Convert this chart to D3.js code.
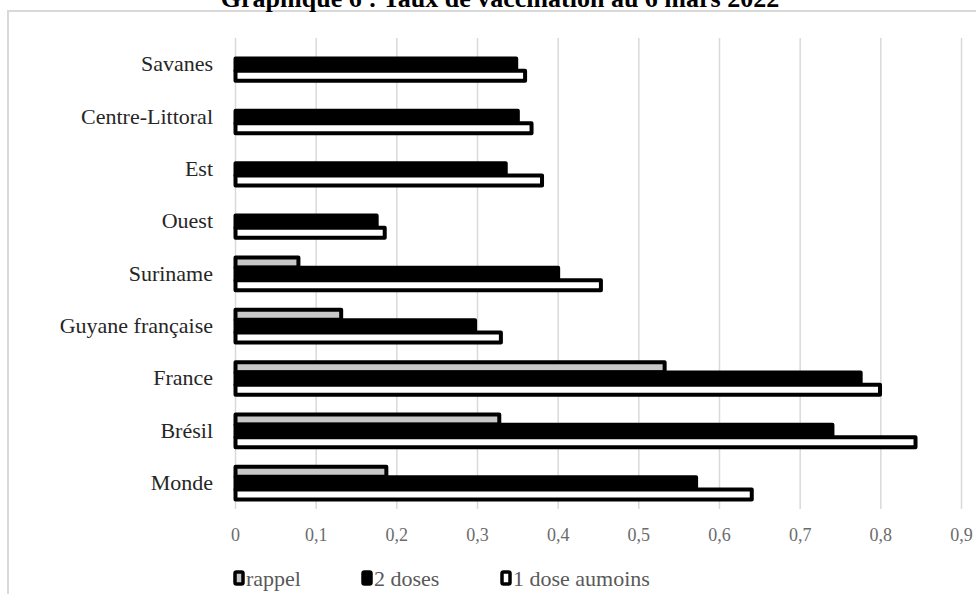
<!DOCTYPE html>
<html>
<head>
<meta charset="utf-8">
<script src="https://cdn.jsdelivr.net/npm/d3@7"></script>
<style>
  body { margin: 0; background: #fff; }
  svg { display: block; }
</style>
</head>
<body>
<div id="chart"></div>
<script>
// Graphique 6 - taux de vaccination, barres horizontales

const categories = ["Savanes", "Centre-Littoral", "Est", "Ouest", "Suriname",
    "Guyane française", "France", "Brésil", "Monde"];
const rappel = [0, 0, 0, 0, 0.078, 0.131, 0.532, 0.327, 0.187];
const deuxDoses = [0.348, 0.350, 0.335, 0.175, 0.400, 0.297, 0.775, 0.740, 0.571];
const uneDose = [0.359, 0.367, 0.380, 0.185, 0.453, 0.329, 0.799, 0.843, 0.640];
const ticks = [0, 0.1, 0.2, 0.3, 0.4, 0.5, 0.6, 0.7, 0.8, 0.9];
const seriesNames = ["rappel", "2 doses", "1 dose aumoins"];

const width = 976;
const height = 594;
const serif = "Liberation Serif, DejaVu Serif, serif";

const svg = d3.select("#chart")
    .append("svg")
    .attr("width", width)
    .attr("height", height);

// cadre du graphique
svg.append("rect")
    .attr("x", 8)
    .attr("y", 11)
    .attr("width", 1000)
    .attr("height", 700)
    .attr("fill", "none")
    .attr("stroke", "#d9d9d9")
    .attr("stroke-width", 2);

// le titre est coupé en haut, comme dans l'original
svg.append("text")
    .attr("x", 500)
    .attr("y", 7)
    .attr("text-anchor", "middle")
    .style("font-family", serif)
    .style("font-weight", "bold")
    .style("font-size", "26px")
    .text("Graphique 6 : Taux de vaccination au 6 mars 2022");

const x = d3.scaleLinear()
    .domain([0, 0.9])
    .range([235.5, 961.5]);

const y = d3.scaleBand()
    .domain(categories)
    .range([38, 509]);

// grille verticale
svg.append("g")
    .selectAll("line")
    .data(ticks)
    .join("line")
    .attr("x1", d => x(d))
    .attr("x2", d => x(d))
    .attr("y1", 38)
    .attr("y2", 509)
    .attr("stroke", "#d9d9d9")
    .attr("stroke-width", 1.5);

const fmt = d => d3.format(".1~f")(d).replace(".", ",");

svg.append("g")
    .selectAll("text")
    .data(ticks)
    .join("text")
    .attr("x", d => x(d))
    .attr("y", 541)
    .attr("text-anchor", "middle")
    .attr("fill", "#6b6b6b")
    .style("font-family", serif)
    .style("font-size", "18px")
    .text(fmt);

svg.append("g")
    .selectAll("text")
    .data(categories)
    .join("text")
    .attr("x", 213)
    .attr("y", d => y(d) + y.bandwidth() / 2 + 7)
    .attr("text-anchor", "end")
    .attr("fill", "#262626")
    .style("font-family", serif)
    .style("font-size", "22px")
    .text(d => d);

// barres : rappel en haut, 2 doses au milieu, 1 dose en bas
const series = [
    { name: "rappel", values: rappel, fill: "#c8c8c8", off: -16, h: 10 },
    { name: "2 doses", values: deuxDoses, fill: "#000", off: -5.7, h: 12.4 },
    { name: "1 dose", values: uneDose, fill: "#fff", off: 6.7, h: 10 }
];

series.forEach(s => {
    svg.append("g")
        .selectAll("rect")
        .data(categories.map((c, i) => ({ cat: c, v: s.values[i] })).filter(d => d.v > 0))
        .join("rect")
        .attr("x", x(0))
        .attr("y", d => y(d.cat) + y.bandwidth() / 2 + s.off)
        .attr("width", d => x(d.v) - x(0))
        .attr("height", s.h)
        .attr("fill", s.fill)
        .attr("stroke", "#000")
        .attr("stroke-width", 4)
        .attr("stroke-linejoin", "round");
});

// légende
const legendX = [233, 361, 500];
const legendFill = ["#c8c8c8", "#000", "#fff"];
const legend = svg.append("g")
    .selectAll("g")
    .data(seriesNames)
    .join("g")
    .attr("transform", (d, i) => `translate(${legendX[i]}, 570)`);

legend.append("rect")
    .attr("x", 2)
    .attr("y", 2)
    .attr("width", 8)
    .attr("height", 12)
    .attr("rx", 1.5)
    .attr("fill", (d, i) => legendFill[i])
    .attr("stroke", "#000")
    .attr("stroke-width", 3.5);

legend.append("text")
    .attr("x", 13)
    .attr("y", 16)
    .attr("fill", "#595959")
    .style("font-family", serif)
    .style("font-size", "22px")
    .text(d => d);
</script>
</body>
</html>
